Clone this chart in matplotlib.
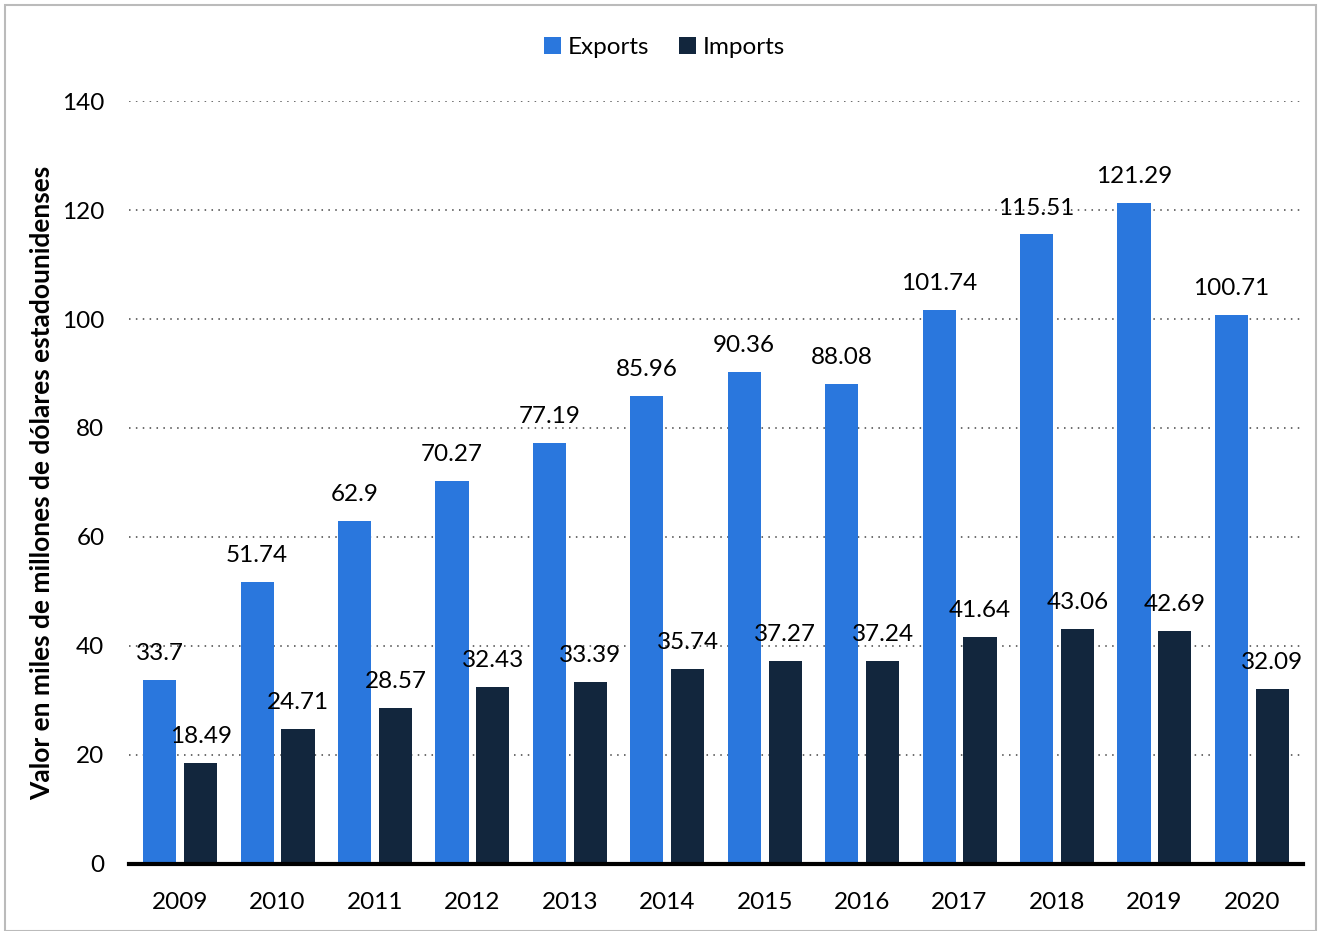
import numpy as np
import matplotlib.pyplot as plt
from matplotlib.patches import Rectangle

plt.rcParams['font.family'] = ['Lato', 'DejaVu Sans']

# Data
years = ["2009", "2010", "2011", "2012", "2013", "2014",
         "2015", "2016", "2017", "2018", "2019", "2020"]
exports = [33.7, 51.74, 62.9, 70.27, 77.19, 85.96,
           90.36, 88.08, 101.74, 115.51, 121.29, 100.71]
imports = [18.49, 24.71, 28.57, 32.43, 33.39, 35.74,
           37.27, 37.24, 41.64, 43.06, 42.69, 32.09]
y_ticks = [0, 20, 40, 60, 80, 100, 120, 140]

EXP_COLOR = "#2a77dd"
IMP_COLOR = "#12263d"

fig = plt.figure(figsize=(13.21, 9.31), dpi=100)
ax = fig.add_axes([0.098, 0.072, 0.888, 0.8195])

x = np.arange(len(years))
w = 0.34
off = 0.21
ax.bar(x - off, exports, width=w, color=EXP_COLOR, label="Exports", zorder=3)
ax.bar(x + off, imports, width=w, color=IMP_COLOR, label="Imports", zorder=3)

# Value labels
for xi, v in zip(x, exports):
    ax.annotate(f"{v:g}", (xi - off, v), xytext=(0, 19), textcoords="offset points",
                ha="center", va="center", fontsize=17.5, zorder=4)
for xi, v in zip(x, imports):
    ax.annotate(f"{v:g}", (xi + off, v), xytext=(0, 19), textcoords="offset points",
                ha="center", va="center", fontsize=17.5, zorder=4)

ax.set_xlim(-0.52, 11.52)
ax.set_ylim(0, 140)
ax.set_xticks(x)
ax.set_xticklabels(years, fontsize=17.5)
ax.set_yticks(y_ticks)
ax.set_yticklabels([str(t) for t in y_ticks], fontsize=17.5)
ax.tick_params(axis="both", length=0)
ax.tick_params(axis="x", pad=20)
ax.tick_params(axis="y", pad=18)

ax.yaxis.grid(True, linestyle=(0, (1, 3.5)), color="#444444", linewidth=1.1, zorder=0)
ax.set_axisbelow(True)
for s in ["top", "right", "left"]:
    ax.spines[s].set_visible(False)
ax.spines["bottom"].set_linewidth(3)
ax.spines["bottom"].set_zorder(5)

ax.set_ylabel("Valor en miles de millones de dólares estadounidenses",
              fontsize=19, fontweight="bold", labelpad=6)

fig.legend(loc="upper center", bbox_to_anchor=(0.503, 0.984), ncol=2, frameon=False,
           fontsize=17.5, handlelength=0.7, handleheight=0.7, handletextpad=0.3,
           columnspacing=1.2)

# Outer border
fig.patches.append(Rectangle((0.004, 0.0), 0.992, 0.995, transform=fig.transFigure,
                             fill=False, edgecolor="#bbbbbb", linewidth=1.5))

plt.savefig("out.png", dpi=100)
